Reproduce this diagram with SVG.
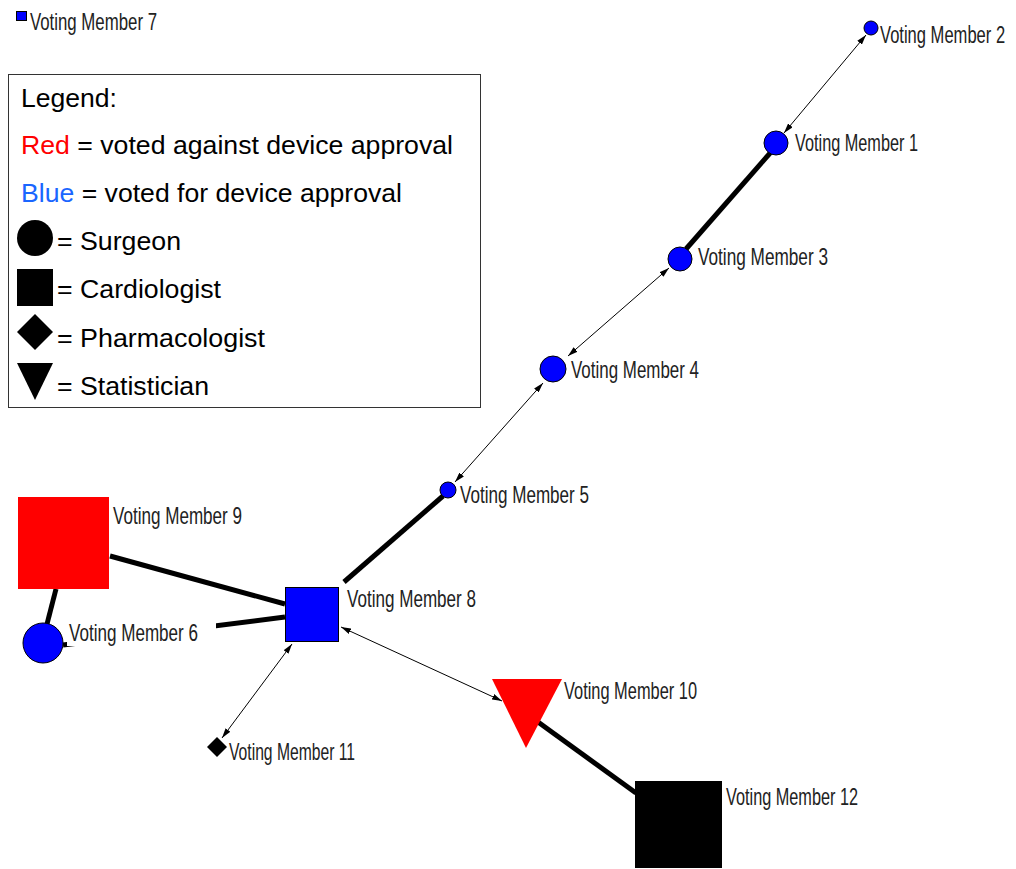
<svg xmlns="http://www.w3.org/2000/svg" width="1016" height="869" viewBox="0 0 1016 869">
<defs>
<marker id="ah" viewBox="0 0 10 6" refX="10" refY="3" markerWidth="10" markerHeight="6" markerUnits="userSpaceOnUse" orient="auto-start-reverse">
<path d="M0,0 L10,3 L0,6 Z" fill="#000"/>
</marker>
</defs>
<style>
.lbl{font-family:"Liberation Sans",Arial,sans-serif;font-size:24px;fill:#222;}
.leg{font-family:"Liberation Sans",Arial,sans-serif;font-size:25px;fill:#000;}
.thin{stroke:#000;stroke-width:1;fill:none;}
.thick{stroke:#000;stroke-width:5;fill:none;}
.blue{fill:#0000ff;stroke:#000;stroke-width:1;}
.red{fill:#ff0000;}
.blk{fill:#000;}
</style>
<rect width="1016" height="869" fill="#fff"/>

<g id="connectors">
<line class="thin" x1="866" y1="35" x2="784" y2="133" marker-start="url(#ah)" marker-end="url(#ah)"/>
<line class="thick" x1="771" y1="152" x2="686" y2="249"/>
<line class="thin" x1="669" y1="268" x2="568" y2="356" marker-start="url(#ah)" marker-end="url(#ah)"/>
<line class="thin" x1="543" y1="383" x2="455" y2="482" marker-start="url(#ah)" marker-end="url(#ah)"/>
<line class="thick" x1="443" y1="496" x2="344" y2="582"/>
<line class="thick" x1="110" y1="556" x2="285" y2="604"/>
<line class="thick" x1="63" y1="645" x2="285" y2="617"/>
<line class="thick" x1="56" y1="589" x2="47" y2="624"/>
<line class="thin" x1="292" y1="644" x2="222" y2="738" marker-start="url(#ah)" marker-end="url(#ah)"/>
<line class="thin" x1="341" y1="627" x2="502" y2="701" marker-start="url(#ah)" marker-end="url(#ah)"/>
<line class="thick" x1="538" y1="722" x2="636" y2="793"/>
</g>

<g id="legend">
<rect x="8.5" y="74.5" width="472" height="333" fill="#fff" stroke="#333" stroke-width="1"/>
<text class="leg" x="21" y="107" textLength="96" lengthAdjust="spacingAndGlyphs">Legend:</text>
<text class="leg" x="21" y="154" textLength="432" lengthAdjust="spacingAndGlyphs"><tspan fill="#ff0000">Red</tspan> = voted against device approval</text>
<text class="leg" x="21" y="202" textLength="381" lengthAdjust="spacingAndGlyphs"><tspan fill="#1a66ff">Blue</tspan> = voted for device approval</text>
<circle cx="35" cy="238" r="18" fill="#000"/>
<text class="leg" x="57" y="250" textLength="124" lengthAdjust="spacingAndGlyphs">= Surgeon</text>
<rect x="17" y="269" width="36" height="37" fill="#000"/>
<text class="leg" x="57" y="298" textLength="164" lengthAdjust="spacingAndGlyphs">= Cardiologist</text>
<polygon points="35,314 53,332 35,350 17,332" fill="#000"/>
<text class="leg" x="57" y="347" textLength="208" lengthAdjust="spacingAndGlyphs">= Pharmacologist</text>
<polygon points="17,363 53,363 35,400" fill="#000"/>
<text class="leg" x="57" y="395" textLength="152" lengthAdjust="spacingAndGlyphs">= Statistician</text>
</g>

<g id="vm7">
<rect class="blue" x="16.5" y="11.5" width="10" height="9"/>
<text class="lbl" x="30" y="30" textLength="127" lengthAdjust="spacingAndGlyphs">Voting Member 7</text>
</g>
<g id="vm2">
<circle class="blue" cx="871" cy="28" r="7"/>
<text class="lbl" transform="translate(880,43) scale(0.69,1)" x="0" y="0">Voting Member 2</text>
</g>
<g id="vm1">
<circle class="blue" cx="776" cy="143" r="12"/>
<text class="lbl" x="795" y="151" textLength="123" lengthAdjust="spacingAndGlyphs">Voting Member 1</text>
</g>
<g id="vm3">
<circle class="blue" cx="680" cy="259" r="12"/>
<text class="lbl" x="698" y="265" textLength="130" lengthAdjust="spacingAndGlyphs">Voting Member 3</text>
</g>
<g id="vm4">
<circle class="blue" cx="553" cy="369" r="13"/>
<text class="lbl" x="571" y="378" textLength="128" lengthAdjust="spacingAndGlyphs">Voting Member 4</text>
</g>
<g id="vm5">
<circle class="blue" cx="448" cy="490" r="8"/>
<text class="lbl" x="460" y="503" textLength="129" lengthAdjust="spacingAndGlyphs">Voting Member 5</text>
</g>
<g id="vm8">
<rect class="blue" x="285.5" y="587.5" width="53" height="54"/>
<text class="lbl" x="347" y="607" textLength="129" lengthAdjust="spacingAndGlyphs">Voting Member 8</text>
</g>
<g id="vm9">
<rect class="red" x="18" y="497" width="91" height="92"/>
<text class="lbl" x="113" y="524" textLength="129" lengthAdjust="spacingAndGlyphs">Voting Member 9</text>
</g>
<g id="vm6">
<circle class="blue" cx="43" cy="643" r="20"/>
<rect x="67" y="620" width="149" height="26" fill="#fff"/>
<text class="lbl" x="69" y="641" textLength="129" lengthAdjust="spacingAndGlyphs">Voting Member 6</text>
</g>
<g id="vm11">
<polygon points="217,737 227,747 217,757 207,747" fill="#000"/>
<text class="lbl" x="229" y="760" textLength="126" lengthAdjust="spacingAndGlyphs">Voting Member 11</text>
</g>
<g id="vm10">
<polygon class="red" points="492,679 562,679 526,748"/>
<text class="lbl" x="564" y="699" textLength="133" lengthAdjust="spacingAndGlyphs">Voting Member 10</text>
</g>
<g id="vm12">
<rect class="blk" x="635" y="781" width="87" height="87"/>
<text class="lbl" x="726" y="805" textLength="132" lengthAdjust="spacingAndGlyphs">Voting Member 12</text>
</g>
</svg>
